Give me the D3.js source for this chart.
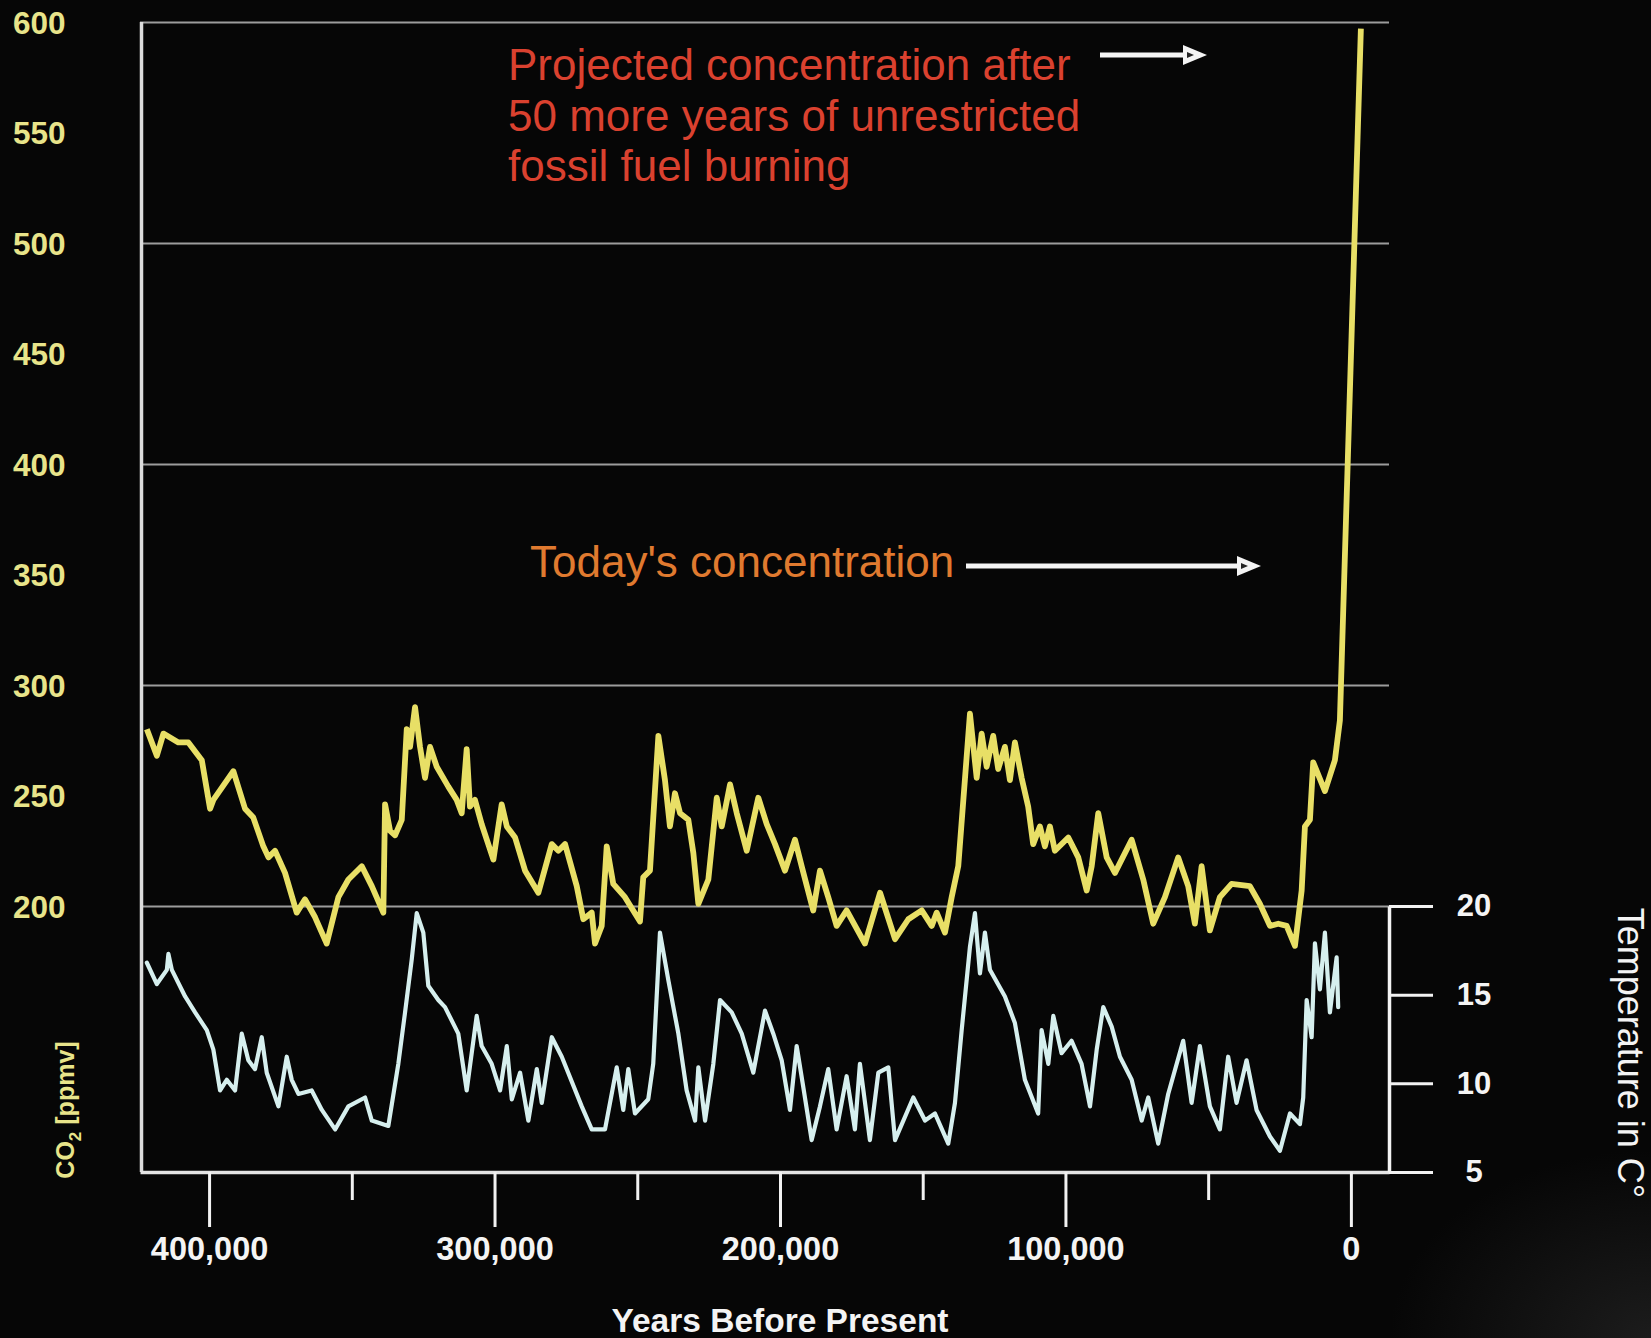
<!DOCTYPE html>
<html><head><meta charset="utf-8">
<script src="https://cdn.jsdelivr.net/npm/d3@7"></script>
<style>
html,body{margin:0;padding:0;background:#060606;}
svg{display:block;}
text{font-family:"Liberation Sans", Arial, Helvetica, sans-serif;}
</style></head><body>
<svg id="chart" width="1651" height="1338"></svg>
<script>
// ---------- DATA ----------
const co2Years = [
 421800, 418300, 416000, 410750, 407250, 402550, 399650, 398500, 391500, 387400,
 384500, 381000, 379200, 376900, 373400, 369300, 366400, 362900, 358800, 354700,
 351200, 346500, 343000, 338950, 338350, 336600, 334850, 332500, 330750, 329600,
 327850, 326100, 324350, 322600, 320250, 316200, 313250, 311500, 309750, 308600,
 306850, 304500, 300400, 297500, 295700, 292800, 289300, 284650, 279950, 277650,
 275300, 271200, 268900, 265950, 264800, 262450, 260700, 258400, 254300, 249050,
 247900, 245550, 242600, 240300, 238550, 236800, 235000, 232100, 230350, 228600,
 225100, 222150, 220400, 217500, 215150, 211650, 207600, 204650, 201750, 198250,
 194750, 192400, 188350, 186000, 183100, 180150, 176650, 170250, 164950, 159700,
 155050, 150350, 146850, 145100, 142200, 139850, 137550, 133450, 131100, 129350,
 127600, 125300, 123550, 121200, 119450, 117700, 115350, 113050, 111300, 108950,
 107200, 105450, 103700, 99000, 95500, 92550, 90800, 88500, 85550, 82650,
 76800, 72750, 69250, 65150, 60500, 57000, 54650, 52300, 49400, 45900,
 41800, 35400, 31900, 28350, 25450, 22500, 19600, 17250, 16100, 14350,
 13200, 9100, 5600, 3850, -3500];
const co2Values = [
 280, 268, 278, 274, 274, 266, 244, 248, 261, 244,
 240, 227, 222, 225, 215, 197, 203, 195, 183, 204,
 212, 218, 209, 197, 246, 234, 232, 239, 280, 272,
 290, 272, 258, 272, 263, 254, 248, 242, 271, 245,
 248, 237, 221, 246, 236, 231, 216, 206, 228, 225,
 228, 209, 194, 197, 183, 191, 227, 210, 204, 193,
 213, 216, 277, 257, 236, 251, 242, 239, 224, 201,
 212, 249, 236, 255, 242, 225, 249, 237, 228, 216,
 230, 218, 198, 216, 204, 191, 198, 183, 206, 185,
 194, 198, 191, 197, 188, 204, 218, 287, 258, 278,
 263, 277, 262, 272, 257, 274, 258, 245, 228, 236,
 227, 236, 225, 231, 222, 207, 218, 242, 222, 215,
 230, 212, 192, 204, 222, 209, 192, 218, 189, 204,
 210, 209, 201, 191, 192, 191, 182, 207, 236, 239,
 265, 252, 266, 284, 597];

const tempYears = [
 421800, 418300, 414800, 414250, 413050, 408400, 404900, 400800, 398500, 396150,
 393800, 390900, 388550, 386250, 383900, 381550, 379800, 375700, 372800, 371050,
 368700, 364050, 360500, 355850, 351200, 345350, 343000, 337200, 333700, 331350,
 329000, 327250, 324950, 323200, 319700, 317350, 312700, 309750, 306250, 304500,
 301000, 298050, 295700, 293950, 291050, 288150, 285200, 283450, 279950, 276450,
 269450, 265950, 261300, 257200, 254900, 253150, 250800, 246150, 244400, 242050,
 239100, 235600, 232700, 229750, 228600, 226250, 223350, 221000, 216900, 213400,
 209350, 205250, 202350, 199400, 196500, 194150, 191850, 188900, 186000, 183100,
 180150, 176650, 173750, 172000, 168500, 165550, 162050, 159700, 153300, 149200,
 145700, 141050, 138700, 136350, 133450, 131700, 129950, 128200, 126450, 121200,
 117700, 114200, 109550, 108350, 106000, 104250, 101350, 97850, 94350, 91400,
 89050, 86750, 83800, 80900, 76800, 73300, 71000, 67500, 64000, 58750,
 55800, 52900, 49400, 45900, 43000, 40050, 36550, 33050, 28350, 24850,
 21350, 17850, 16700, 15500, 13750, 12600, 10850, 9100, 7350, 5000, 4450];
const tempValues = [
 16.8, 15.6, 16.4, 17.3, 16.4, 14.9, 14.0, 13.0, 11.9, 9.6,
 10.2, 9.6, 12.8, 11.3, 10.8, 12.6, 10.6, 8.7, 11.5, 10.2,
 9.4, 9.6, 8.5, 7.4, 8.7, 9.2, 7.9, 7.6, 11.1, 14.0,
 17.0, 19.6, 18.5, 15.5, 14.7, 14.3, 12.8, 9.6, 13.8, 12.1,
 11.1, 9.6, 12.1, 9.1, 10.6, 7.9, 10.8, 8.9, 12.6, 11.5,
 8.7, 7.4, 7.4, 10.9, 8.5, 10.8, 8.3, 9.1, 11.1, 18.5,
 15.8, 12.8, 9.6, 7.9, 10.9, 7.9, 11.1, 14.7, 14.0, 12.8,
 10.6, 14.1, 12.8, 11.3, 8.5, 12.1, 9.8, 6.8, 8.7, 10.8,
 7.4, 10.4, 7.4, 11.1, 6.8, 10.6, 10.9, 6.8, 9.2, 7.9,
 8.3, 6.6, 8.9, 13.0, 17.7, 19.6, 16.2, 18.5, 16.4, 14.9,
 13.4, 10.2, 8.3, 13.0, 11.1, 13.8, 11.7, 12.4, 11.1, 8.7,
 11.9, 14.3, 13.2, 11.5, 10.2, 7.9, 9.2, 6.6, 9.4, 12.4,
 8.9, 12.1, 8.7, 7.4, 11.5, 8.9, 11.3, 8.5, 7.0, 6.2,
 8.3, 7.7, 9.2, 14.7, 12.6, 17.9, 15.3, 18.5, 14.0, 17.1, 14.3];

const co2TickLabels = [200, 250, 300, 350, 400, 450, 500, 550, 600];
const co2GridLines = [200, 300, 400, 500, 600];
const tempTicks = [5, 10, 15, 20];
const yearMajorTicks = [400000, 300000, 200000, 100000, 0];
const yearMinorTicks = [350000, 250000, 150000, 50000];
const annotationProjected = ["Projected concentration after", "50 more years of unrestricted", "fossil fuel burning"];
const annotationToday = "Today's concentration";

// ---------- CHART ----------
const W = 1651, H = 1338;
const svg = d3.select("#chart");
const defs = svg.append("defs");
const rg = defs.append("radialGradient").attr("id", "corner").attr("cx", "100%").attr("cy", "100%").attr("r", "100%");
rg.append("stop").attr("offset", "0%").attr("stop-color", "#1c1c1c");
rg.append("stop").attr("offset", "100%").attr("stop-color", "#060606");
svg.append("rect").attr("width", W).attr("height", H).attr("fill", "#060606");
svg.append("rect").attr("x", 1390).attr("y", 1150).attr("width", W - 1390).attr("height", H - 1150).attr("fill", "url(#corner)");

const x = d3.scaleLinear().domain([424200, -13350]).range([140, 1389]);
const yC = d3.scaleLinear().domain([200, 600]).range([906, 22]);
const yT = d3.scaleLinear().domain([5, 20]).range([1172, 906]);

const FONT = '"Liberation Sans", Arial, sans-serif';
const yellowText = "#e8e48a";
const left = x.range()[0], right = x.range()[1];

// grid lines
svg.append("g").attr("transform", `translate(${left},0)`)
  .call(d3.axisLeft(yC).tickValues(co2GridLines).tickSize(-(right - left)).tickFormat(""))
  .call(g => g.select(".domain").remove())
  .selectAll("line").attr("stroke", "#9c9c9c").attr("stroke-width", 2);

// left CO2 labels
const gl = svg.append("g").attr("transform", `translate(${left},0)`)
  .call(d3.axisLeft(yC).tickValues(co2TickLabels).tickSize(0).tickFormat(d3.format("d")));
gl.select(".domain").remove();
gl.attr("font-family", null).attr("font-size", null);
gl.selectAll("text").attr("x", 13 - left).attr("dy", "0.36em").attr("text-anchor", "start")
  .attr("fill", yellowText).style("font-family", FONT).style("font-size", "31.5px").style("font-weight", "bold");

// left frame line
svg.append("line").attr("x1", left + 1.5).attr("x2", left + 1.5)
  .attr("y1", yC(600)).attr("y2", yT(5)).attr("stroke", "#dcdcdc").attr("stroke-width", 3.5);

// bottom axis major
const gb = svg.append("g").attr("transform", `translate(0,${yT(5)})`)
  .call(d3.axisBottom(x).tickValues(yearMajorTicks).tickSize(55).tickSizeOuter(0).tickPadding(10).tickFormat(d3.format(",")));
gb.attr("font-family", null).attr("font-size", null);
gb.select(".domain").attr("stroke", "#e4e4e4").attr("stroke-width", 3.5);
gb.selectAll(".tick line").attr("stroke", "#f2f2f2").attr("stroke-width", 3);
gb.selectAll("text").attr("fill", "#f4f4f4").style("font-family", FONT).style("font-size", "32.5px").style("font-weight", "bold");

// bottom axis minor
const gm = svg.append("g").attr("transform", `translate(0,${yT(5)})`)
  .call(d3.axisBottom(x).tickValues(yearMinorTicks).tickSize(28).tickFormat(""));
gm.select(".domain").remove();
gm.selectAll(".tick line").attr("stroke", "#f2f2f2").attr("stroke-width", 3);

// right temperature axis
const gr = svg.append("g").attr("transform", `translate(${right},0)`)
  .call(d3.axisRight(yT).tickValues(tempTicks).tickSize(44).tickSizeOuter(0).tickFormat(d3.format("d")));
gr.attr("font-family", null).attr("font-size", null);
gr.select(".domain").attr("stroke", "#f2f2f2").attr("stroke-width", 3.5);
gr.selectAll(".tick line").attr("stroke", "#f2f2f2").attr("stroke-width", 3);
gr.selectAll("text").attr("x", 85).attr("text-anchor", "middle").attr("fill", "#f4f4f4")
  .style("font-family", FONT).style("font-size", "31px").style("font-weight", "bold");

// axis titles
svg.append("text").attr("x", (x(400000) + x(0)) / 2).attr("y", 1332).attr("text-anchor", "middle")
  .attr("fill", "#f4f4f4").style("font-size", "33.5px").style("font-weight", "bold").text("Years Before Present");

svg.append("text").attr("transform", "translate(1618,1053) rotate(90)").attr("text-anchor", "middle")
  .attr("fill", "#f4f4f4").style("font-size", "36px").text("Temperature in C°");

const co2Label = svg.append("text").attr("transform", "translate(74,1110) rotate(-90)").attr("text-anchor", "middle")
  .attr("fill", yellowText).style("font-size", "25px").style("font-weight", "bold");
co2Label.append("tspan").text("CO");
co2Label.append("tspan").attr("dy", 7).style("font-size", "17px").text("2");
co2Label.append("tspan").attr("dy", -7).text(" [ppmv]");

// temperature line
const tempData = tempYears.map((yr, i) => [yr, tempValues[i]]);
svg.append("path").datum(tempData)
  .attr("d", d3.line().x(d => x(d[0])).y(d => yT(d[1])))
  .attr("fill", "none").attr("stroke", "#d6efee").attr("stroke-width", 4.2)
  .attr("stroke-linejoin", "round").attr("stroke-linecap", "round");

// CO2 line
const co2Data = co2Years.map((yr, i) => [yr, co2Values[i]]);
svg.append("path").datum(co2Data)
  .attr("d", d3.line().x(d => x(d[0])).y(d => yC(d[1])))
  .attr("fill", "none").attr("stroke", "#e8df66").attr("stroke-width", 5.8)
  .attr("stroke-linejoin", "round").attr("stroke-linecap", "butt");

// annotations
const proj = svg.append("text").attr("fill", "#da412f").style("font-size", "44px");
annotationProjected.forEach((t, i) => {
  proj.append("tspan").attr("x", 508).attr("y", 80 + i * 50.5).text(t);
});
svg.append("text").attr("x", 530).attr("y", 577).attr("fill", "#e07a2f").style("font-size", "44px").text(annotationToday);

function arrow(x1, x2, y) {
  svg.append("line").attr("x1", x1).attr("x2", x2 - 16).attr("y1", y).attr("y2", y)
    .attr("stroke", "#f4f4f4").attr("stroke-width", 5);
  svg.append("path").attr("d", `M${x2},${y} L${x2 - 24},${y - 10} L${x2 - 24},${y + 10} Z`)
    .attr("fill", "#f4f4f4");
  svg.append("path").attr("d", `M${x2 - 13},${y} L${x2 - 20},${y - 3} L${x2 - 20},${y + 3} Z`)
    .attr("fill", "#222");
}
arrow(1100, 1207, 55);
arrow(966, 1261, 566);
</script>
</body></html>
